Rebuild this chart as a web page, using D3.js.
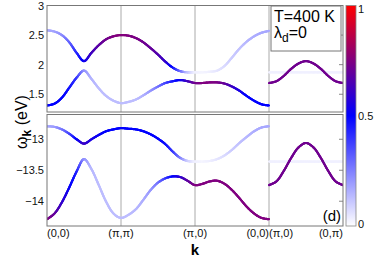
<!DOCTYPE html>
<html>
<head>
<meta charset="utf-8">
<script src="https://cdn.jsdelivr.net/npm/d3@7"></script>
<style>
  body { margin: 0; background: #fff; }
  svg { display: block; font-family: "Liberation Sans", Arial, sans-serif; }
</style>
</head>
<body>
<svg id="chart" width="374" height="259"></svg>
<script>
// k path position: 0=(0,0) 1=(pi,pi) 2=(pi,0) 3=(0,0) | 3=(pi,0) 4=(0,pi)
var kLeft = [0, 0.1, 0.2, 0.3, 0.4, 0.5, 0.6, 0.7, 0.8, 0.9, 1.0, 1.1, 1.2, 1.3, 1.4, 1.5,
             1.6, 1.7, 1.8, 1.9, 2.0, 2.1, 2.2, 2.3, 2.4, 2.5, 2.6, 2.7, 2.8, 2.9, 3.0];
var kRight = [3.0, 3.1, 3.2, 3.3, 3.4, 3.5, 3.6, 3.7, 3.8, 3.9, 4.0];

// upper panel (eV)
var bandA_E = [2.58, 2.56, 2.50, 2.38, 2.20, 2.06, 2.20, 2.33, 2.43, 2.48, 2.50, 2.49, 2.45, 2.38, 2.28, 2.17,
               2.05, 1.95, 1.89, 1.87, 1.87, 1.87, 1.88, 1.90, 1.98, 2.12, 2.27, 2.39, 2.48, 2.54, 2.57];
var bandA_W = [0.17, 0.18, 0.22, 0.30, 0.42, 0.52, 0.62, 0.68, 0.72, 0.75, 0.76, 0.75, 0.74, 0.72, 0.70, 0.66,
               0.60, 0.48, 0.30, 0.12, 0.03, 0.02, 0.03, 0.05, 0.07, 0.10, 0.12, 0.14, 0.16, 0.17, 0.17];
var bandB_E = [1.31, 1.34, 1.44, 1.61, 1.78, 1.90, 1.76, 1.60, 1.47, 1.39, 1.35, 1.37, 1.41, 1.48, 1.56, 1.63,
               1.69, 1.72, 1.74, 1.72, 1.69, 1.69, 1.70, 1.70, 1.68, 1.63, 1.56, 1.47, 1.39, 1.33, 1.31];
var bandB_W = [0.50, 0.50, 0.50, 0.47, 0.40, 0.22, 0.15, 0.13, 0.13, 0.13, 0.13, 0.13, 0.13, 0.15, 0.20, 0.27,
               0.36, 0.45, 0.52, 0.62, 0.72, 0.75, 0.75, 0.74, 0.70, 0.62, 0.55, 0.50, 0.50, 0.50, 0.50];
// lower panel (eV)
var bandC_E = [-12.79, -12.80, -12.84, -12.91, -13.00, -13.07, -13.00, -12.93, -12.87, -12.84, -12.82, -12.83,
               -12.84, -12.87, -12.92, -12.99, -13.08, -13.20, -13.30, -13.35, -13.36, -13.36, -13.35, -13.32,
               -13.26, -13.17, -13.06, -12.96, -12.87, -12.81, -12.79];
var bandC_W = [0.17, 0.19, 0.26, 0.36, 0.50, 0.62, 0.55, 0.52, 0.50, 0.50, 0.50, 0.50, 0.50, 0.50, 0.50, 0.50,
               0.48, 0.40, 0.26, 0.10, 0.03, 0.02, 0.03, 0.05, 0.07, 0.10, 0.12, 0.14, 0.16, 0.17, 0.17];
var bandD_E = [-14.29, -14.20, -14.02, -13.78, -13.52, -13.32, -13.48, -13.74, -14.01, -14.20, -14.27, -14.22,
               -14.13, -13.98, -13.82, -13.70, -13.63, -13.60, -13.61, -13.67, -13.74, -13.72, -13.68, -13.67,
               -13.72, -13.82, -13.95, -14.09, -14.20, -14.27, -14.29];
var bandD_W = [0.75, 0.70, 0.60, 0.52, 0.44, 0.22, 0.14, 0.13, 0.13, 0.13, 0.13, 0.13, 0.14, 0.16, 0.20, 0.27,
               0.38, 0.50, 0.58, 0.68, 0.75, 0.75, 0.75, 0.75, 0.75, 0.75, 0.75, 0.75, 0.75, 0.75, 0.75];
// right part, (pi,0) -> (0,pi)
var rightTop_E = [1.69, 1.72, 1.81, 1.93, 2.02, 2.06, 2.02, 1.93, 1.81, 1.72, 1.69];
var rightTopFlat_E = [1.87, 1.87, 1.87, 1.87, 1.87, 1.87, 1.87, 1.87, 1.87, 1.87, 1.87];
var rightBot_E = [-13.74, -13.68, -13.51, -13.30, -13.13, -13.06, -13.13, -13.30, -13.51, -13.68, -13.74];
var rightBotFlat_E = [-13.36, -13.36, -13.36, -13.36, -13.36, -13.36, -13.36, -13.36, -13.36, -13.36, -13.36];
var rightStrong_W = [0.72, 0.72, 0.72, 0.72, 0.72, 0.72, 0.72, 0.72, 0.72, 0.72, 0.72];
var rightFaint_W = [0.03, 0.03, 0.03, 0.03, 0.03, 0.03, 0.03, 0.03, 0.03, 0.03, 0.03];

var kTicks = [0, 1, 2, 3, 4];
var kLabels = ["(0,0)", "(\u03c0,\u03c0)", "(\u03c0,0)", "(0,0)", "(\u03c0,0)", "(0,\u03c0)"];
var topTicks = [1.5, 2, 2.5, 3];
var botTicks = [-14, -13.5, -13];
var cbTicks = [0, 0.5, 1];
var cbStops = [0, 0.5, 1];
var cbColors = ["#ffffff", "#0000ff", "#ff0000"];

var svg = d3.select("#chart");
var left = 47, right = 343;
var x = d3.scaleLinear().domain([0, 4]).range([left, right]);
var yTop = d3.scaleLinear().domain([1.2, 3]).range([112, 5.5]);
var yBot = d3.scaleLinear().domain([-14.4, -12.6]).range([226, 114.5]);
var cmap = d3.scaleLinear().domain(cbStops).range(cbColors);
var fmt = function(d){ return d3.format("")(d).replace("-", "\u2212"); };

var defs = svg.append("defs");

function panel(y, ticks, id){
	var y0 = y.range()[0], y1 = y.range()[1];
	defs.append("clipPath").attr("id", id)
		.append("rect").attr("x", left).attr("y", y1).attr("width", right - left).attr("height", y0 - y1);

	var g = svg.append("g");
	// k separators
	g.selectAll(".vline").data([1, 2, 3]).enter().append("line")
		.attr("x1", function(d){ return x(d); }).attr("x2", function(d){ return x(d); })
		.attr("y1", y1).attr("y2", y0)
		.attr("stroke", "#aaa").attr("stroke-width", 1);

	var ax = g.append("g").attr("transform", "translate(" + left + ",0)")
		.call(d3.axisLeft(y).tickValues(ticks).tickSize(0).tickPadding(3).tickFormat(fmt));
	ax.select(".domain").remove();
	ax.selectAll("text").attr("font-size", 11).attr("fill", "#111").attr("font-family", null);

	// mirrored ticks on the right edge
	g.selectAll(".rtick").data(ticks).enter().append("line")
		.attr("x1", right - 4).attr("x2", right)
		.attr("y1", function(d){ return y(d); }).attr("y2", function(d){ return y(d); })
		.attr("stroke", "#888");

	var curves = g.append("g").attr("clip-path", "url(#" + id + ")");
	return {g: g, curves: curves, y0: y0, y1: y1};
}

function band(p, y, ks, es, ws){
	var line = d3.line()
		.x(function(d, i){ return x(ks[i]); })
		.y(function(d){ return y(d); })
		.curve(d3.curveCatmullRom.alpha(0.5));
	var tmp = p.curves.append("path").attr("d", line(es)).attr("fill", "none");
	var node = tmp.node();
	var len = node.getTotalLength();
	var n = Math.ceil(len / 0.8);
	var wScale = d3.scaleLinear().domain(ks.map(function(k){ return x(k); })).range(ws).clamp(true);
	var pts = d3.range(n + 1).map(function(i){ return node.getPointAtLength(len * i / n); });
	tmp.remove();
	var segs = d3.pairs(pts);
	p.curves.append("g").selectAll("line").data(segs).enter().append("line")
		.attr("x1", function(d){ return d[0].x; }).attr("y1", function(d){ return d[0].y; })
		.attr("x2", function(d){ return d[1].x; }).attr("y2", function(d){ return d[1].y; })
		.attr("stroke", function(d){ return cmap(wScale((d[0].x + d[1].x) / 2)); })
		.attr("stroke-width", 2.2)
		.attr("stroke-linecap", "round");
}

function frame(p){
	p.g.append("rect").attr("x", left).attr("y", p.y1).attr("width", right - left).attr("height", p.y0 - p.y1)
		.attr("fill", "none").attr("stroke", "#777").attr("stroke-width", 1);
}

var pTop = panel(yTop, topTicks, "clipTop");
band(pTop, yTop, kRight, rightTopFlat_E, rightFaint_W);
band(pTop, yTop, kLeft, bandA_E, bandA_W);
band(pTop, yTop, kLeft, bandB_E, bandB_W);
band(pTop, yTop, kRight, rightTop_E, rightStrong_W);
frame(pTop);

var pBot = panel(yBot, botTicks, "clipBot");
band(pBot, yBot, kRight, rightBotFlat_E, rightFaint_W);
band(pBot, yBot, kLeft, bandC_E, bandC_W);
band(pBot, yBot, kLeft, bandD_E, bandD_W);
band(pBot, yBot, kRight, rightBot_E, rightStrong_W);
frame(pBot);

// k tick labels: first starts at tick, last ends at tick, the (0,0)|(pi,0) pair meets at k=3
var labPos = [
	{k: 0, a: "start"}, {k: 1, a: "middle"}, {k: 2, a: "middle"},
	{k: 3, a: "end"}, {k: 3, a: "start"}, {k: 4, a: "end"}
];
svg.append("g").selectAll("text").data(labPos).enter().append("text")
	.attr("x", function(d){ return x(d.k); })
	.attr("y", 237)
	.attr("text-anchor", function(d){ return d.a; })
	.attr("font-size", 11)
	.attr("fill", "#111")
	.text(function(d, i){ return kLabels[i]; });

svg.append("text").attr("x", x(2)).attr("y", 255).attr("text-anchor", "middle")
	.attr("font-size", 15).attr("font-weight", "bold").text("k");

// y label
var yl = svg.append("text").attr("transform", "translate(27,122) rotate(-90)")
	.attr("text-anchor", "middle").attr("font-size", 16);
yl.append("tspan").text("\u03c9");
yl.append("tspan").attr("font-size", 12).attr("font-weight", "bold").attr("dy", 4).text("k");
yl.append("tspan").attr("dy", -4).text(" (eV)");

// legend
var lg = svg.append("g");
lg.append("rect").attr("x", 271).attr("y", 6).attr("width", 70).attr("height", 45)
	.attr("fill", "#fff").attr("stroke", "#777").attr("stroke-width", 1);
lg.append("text").attr("x", 274).attr("y", 22).attr("font-size", 16).text("T=400 K");
var lt = lg.append("text").attr("x", 274).attr("y", 38).attr("font-size", 16);
lt.append("tspan").text("\u03bb");
lt.append("tspan").attr("font-size", 12).attr("dy", 4).text("d");
lt.append("tspan").attr("dy", -4).text("=0");

svg.append("text").attr("x", 341).attr("y", 221).attr("text-anchor", "end")
	.attr("font-size", 15).text("(d)");

// colorbar
var cbY = d3.scaleLinear().domain([0, 1]).range([226, 5.5]);
var grad = defs.append("linearGradient").attr("id", "cbGrad")
	.attr("x1", 0).attr("y1", 1).attr("x2", 0).attr("y2", 0);
grad.selectAll("stop").data(cbStops).enter().append("stop")
	.attr("offset", function(d){ return d; })
	.attr("stop-color", function(d, i){ return cbColors[i]; });
svg.append("rect").attr("x", 346).attr("y", cbY(1)).attr("width", 10).attr("height", cbY(0) - cbY(1))
	.attr("fill", "url(#cbGrad)").attr("stroke", "#888").attr("stroke-width", 0.8);
var cax = svg.append("g").attr("transform", "translate(356,0)")
	.call(d3.axisRight(cbY).tickValues(cbTicks).tickSize(0).tickPadding(2).tickFormat(d3.format("")));
cax.select(".domain").remove();
cax.selectAll("text").attr("font-size", 11).attr("fill", "#111").attr("font-family", null);
cax.selectAll(".tick").filter(function(d){ return d === 1; }).select("text").attr("dy", "0.6em");
cax.selectAll(".tick").filter(function(d){ return d === 0; }).select("text").attr("dy", "0.1em");
</script>
</body>
</html>
